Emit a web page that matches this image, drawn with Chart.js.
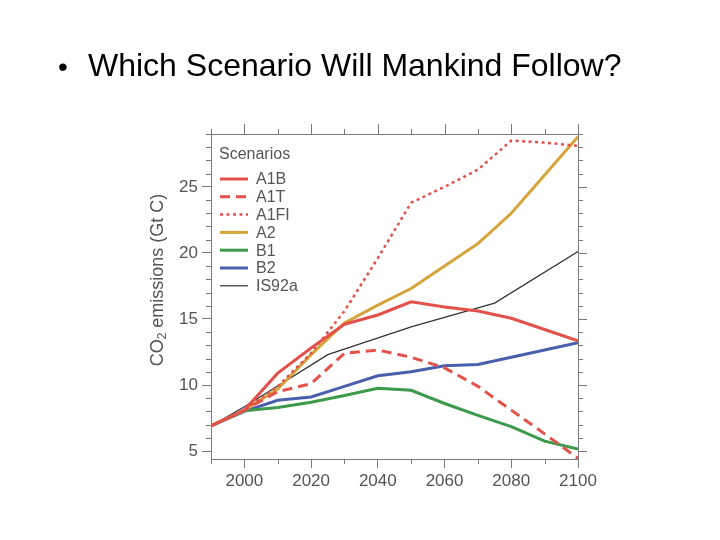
<!DOCTYPE html>
<html>
<head>
<meta charset="utf-8">
<script src="https://cdn.jsdelivr.net/npm/chart.js@4.4.1/dist/chart.umd.min.js"></script>
<style>
  html, body { margin: 0; padding: 0; background: #fff; }
  #wrap { position: relative; width: 720px; height: 540px; }
  #wrap canvas { position: absolute; left: 0; top: 0; }
  .heading {
    position: absolute; left: 58px; top: 46px;
    font-family: "Liberation Sans", Arial, sans-serif;
    font-size: 32px; line-height: 38px; color: #000; white-space: nowrap;
  }
  .heading .bullet { display: inline-block; width: 30px; font-size: 28px; }
</style>
</head>
<body>
<div id="wrap">
  <canvas id="co2Chart" width="720" height="540"></canvas>
  <div class="heading"><span class="bullet">•</span>Which Scenario Will Mankind Follow?</div>
</div>
<script>
// Yıllar ve senaryo değerleri (Gt C)
const years = [1990, 2000, 2010, 2020, 2030, 2040, 2050, 2060, 2070, 2080, 2090, 2100];
const is92aYears = [1990, 2000, 2025, 2050, 2075, 2100];

const a1b  = [6.9, 8.1, 10.9, 12.8, 14.6, 15.3, 16.3, 15.9, 15.6, 15.05, 14.2, 13.35];
const a1t  = [6.9, 8.1, 9.5, 10.1, 12.4, 12.65, 12.1, 11.3, 9.9, 8.1, 6.3, 4.45];
const a1fi = [6.9, 8.1, 9.9, 12.4, 15.6, 19.6, 23.8, 25.0, 26.3, 28.5, 28.35, 28.1];
const a2   = [6.9, 8.1, 9.7, 12.3, 14.7, 16.05, 17.3, 19.0, 20.7, 23.0, 25.9, 28.8];
const b1   = [6.9, 8.05, 8.3, 8.7, 9.2, 9.75, 9.6, 8.6, 7.7, 6.85, 5.75, 5.15];
const b2   = [6.9, 8.0, 8.85, 9.1, 9.9, 10.7, 11.0, 11.45, 11.55, 12.1, 12.65, 13.2];
const is92a = [6.9, 8.35, 12.3, 14.4, 16.2, 20.1];

const xTicks = [2000, 2020, 2040, 2060, 2080, 2100];
const yTicks = [5, 10, 15, 20, 25];

const FONT = '"Liberation Sans", Arial, sans-serif';

function pts(xs, ys) {
    return xs.map((x, i) => ({ x: x, y: ys[i] }));
}

function series(label, xs, ys, color, width, dash) {
    return {
        label: label,
        data: pts(xs, ys),
        borderColor: color,
        backgroundColor: color,
        borderWidth: width,
        borderDash: dash,
        pointRadius: 0,
        tension: 0,
        fill: false
    };
}

// Grafik içi lejant
const legendPlugin = {
    id: 'insideLegend',
    afterDatasetsDraw(chart) {
        const ctx = chart.ctx;
        ctx.save();
        ctx.font = '16px ' + FONT;
        ctx.fillStyle = '#555';
        ctx.textBaseline = 'middle';
        ctx.fillText('Scenarios', 219, 155);
        chart.data.datasets.forEach((ds, i) => {
            const y = 179 + i * 17.8;
            ctx.beginPath();
            ctx.strokeStyle = ds.borderColor;
            ctx.lineWidth = ds.borderWidth;
            ctx.setLineDash(ds.borderDash || []);
            ctx.moveTo(220, y);
            ctx.lineTo(248, y);
            ctx.stroke();
            ctx.setLineDash([]);
            ctx.fillStyle = '#555';
            ctx.fillText(ds.label, 256, y + 1);
        });
        ctx.restore();
    }
};

// Çerçeve, ara çizgiler ve y ekseni başlığı
const framePlugin = {
    id: 'frame',
    afterDraw(chart) {
        const ctx = chart.ctx;
        const x = chart.scales.x, y = chart.scales.y;
        const a = chart.chartArea;
        ctx.save();
        ctx.strokeStyle = '#7a7a7a';
        ctx.lineWidth = 1;
        ctx.beginPath();
        ctx.moveTo(a.left, a.top + 0.5); ctx.lineTo(a.right, a.top + 0.5);
        ctx.moveTo(a.right + 0.5, a.top); ctx.lineTo(a.right + 0.5, a.bottom);
        // x ekseni: üst ve alt
        for (let yr = 1990; yr <= 2100; yr += 10) {
            const px = Math.round(x.getPixelForValue(yr)) + 0.5;
            const major = xTicks.includes(yr);
            ctx.moveTo(px, a.top); ctx.lineTo(px, a.top - (major ? 10 : 5));
            if (!major) { ctx.moveTo(px, a.bottom); ctx.lineTo(px, a.bottom + 5); }
        }
        // y ekseni: sol ve sağ
        for (let v = 5; v <= 29; v += 1) {
            const py = Math.round(y.getPixelForValue(v)) + 0.5;
            const major = yTicks.includes(v);
            ctx.moveTo(a.right, py); ctx.lineTo(a.right + (major ? 9 : 5), py);
            if (!major) { ctx.moveTo(a.left, py); ctx.lineTo(a.left - 5, py); }
        }
        ctx.stroke();

        // CO2 başlığı (alt simge ile)
        ctx.translate(158, 280);
        ctx.rotate(-Math.PI / 2);
        ctx.fillStyle = '#555';
        ctx.textBaseline = 'middle';
        const big = '18px ' + FONT, small = '12px ' + FONT;
        ctx.font = big;
        const w1 = ctx.measureText('CO').width;
        const w3 = ctx.measureText(' emissions (Gt C)').width;
        ctx.font = small;
        const w2 = ctx.measureText('2').width;
        let sx = -(w1 + w2 + w3) / 2;
        ctx.font = big;
        ctx.fillText('CO', sx, 0);
        ctx.font = small;
        ctx.fillText('2', sx + w1, 5);
        ctx.font = big;
        ctx.fillText(' emissions (Gt C)', sx + w1 + w2, 0);
        ctx.restore();
    }
};

const ctx = document.getElementById('co2Chart');
new Chart(ctx, {
    type: 'line',
    data: {
        datasets: [
            series('A1B', years, a1b, '#e2514a', 3, []),
            series('A1T', years, a1t, '#e2514a', 3, [10, 6]),
            series('A1FI', years, a1fi, '#e2514a', 2.5, [3, 3.5]),
            series('A2', years, a2, '#d5a43a', 3, []),
            series('B1', years, b1, '#3d9a4b', 3, []),
            series('B2', years, b2, '#4a5fab', 3, []),
            series('IS92a', is92aYears, is92a, '#333333', 1.2, [])
        ]
    },
    options: {
        responsive: false,
        animation: false,
        layout: { padding: { left: 0, top: 134, right: 142, bottom: 0 } },
        plugins: {
            legend: { display: false },
            tooltip: { enabled: false }
        },
        scales: {
            x: {
                type: 'linear',
                min: 1990,
                max: 2100,
                afterBuildTicks: (scale) => { scale.ticks = xTicks.map(v => ({ value: v })); },
                afterFit: (scale) => { scale.height = 81; },
                grid: { drawOnChartArea: false, tickLength: 9, color: '#7a7a7a' },
                border: { display: true, color: '#7a7a7a' },
                ticks: {
                    font: { family: FONT, size: 17 },
                    color: '#555',
                    padding: 3,
                    maxRotation: 0,
                    callback: (v) => String(v)
                }
            },
            y: {
                min: 4.4,
                max: 29,
                afterBuildTicks: (scale) => { scale.ticks = yTicks.map(v => ({ value: v })); },
                afterFit: (scale) => { scale.width = 211; },
                grid: { drawOnChartArea: false, tickLength: 9, color: '#7a7a7a' },
                border: { display: true, color: '#7a7a7a' },
                ticks: {
                    font: { family: FONT, size: 17 },
                    color: '#555',
                    padding: 4,
                    callback: (v) => String(v)
                }
            }
        }
    },
    plugins: [legendPlugin, framePlugin]
});
</script>
</body>
</html>
